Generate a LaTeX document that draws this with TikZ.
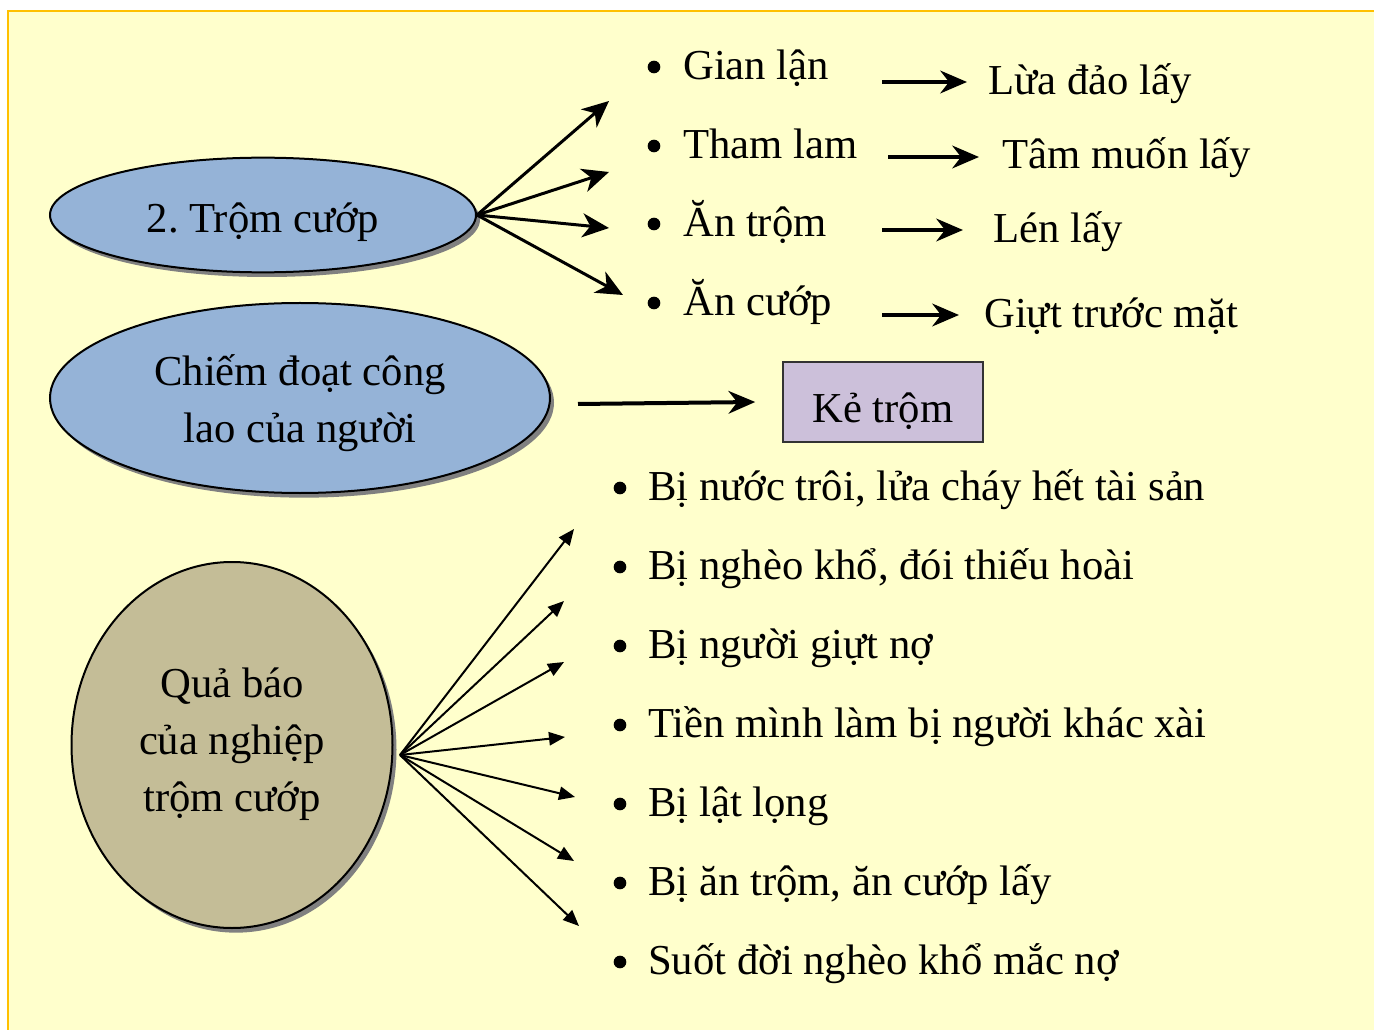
\documentclass[tikz,border=0pt]{standalone}
\usepackage{fontspec}
\setmainfont{Liberation Serif}
\usetikzlibrary{shapes.geometric,arrows.meta,shadows}
\definecolor{panel}{HTML}{FFFFCC}
\definecolor{panelline}{HTML}{FFC000}
\definecolor{ellblue}{HTML}{95B3D7}
\definecolor{elltan}{HTML}{C4BD97}
\definecolor{boxlav}{HTML}{CCC0DA}
\definecolor{shadowgray}{HTML}{808080}
\frenchspacing
\tikzset{
  txt/.style={font=\fontsize{32}{43}\selectfont, inner sep=0pt, anchor=base west},
  oval/.style={ellipse, draw=black, line width=1.5pt, align=center, inner sep=0pt,
    font=\fontsize{32}{43}\selectfont,
    drop shadow={shadow xshift=3pt, shadow yshift=-3.5pt, fill=shadowgray, opacity=1}},
  dot/.style={circle, fill=black, inner sep=0pt, minimum size=9.5pt},
  fanup/.style={line width=2.25pt, -{Stealth[length=20pt,width=18pt,inset=6pt]}},
  fanright/.style={line width=3pt, -{Stealth[length=20pt,width=17pt,inset=6.5pt]}},
  fandown/.style={line width=1.5pt, -{Triangle[length=12pt,width=10pt]}},
}
\newcommand{\lowertext}[2]{\raisebox{#1}[\height][\depth]{\begin{tabular}{@{}c@{}}#2\end{tabular}}}
\begin{document}
\begin{tikzpicture}[x=0.75pt,y=-0.75pt]
\useasboundingbox (0,0) rectangle (1374,1030);
\fill[white] (0,0) rectangle (1374,1030);
\fill[panel] (8,11) rectangle (1374,1030);
\draw[panelline, line width=1.5pt] (8,1030) -- (8,11) -- (1374,11);

% ellipses and box
\node[oval, fill=ellblue, minimum width=319.5pt, minimum height=86pt] (e1) at (263,215) {\lowertext{-4.5pt}{2. Trộm cướp}};
\node[oval, fill=ellblue, minimum width=375pt, minimum height=142.5pt] (e2) at (300,398) {\lowertext{-3.5pt}{Chiếm đoạt công\\lao của người}};
\node[oval, fill=elltan, minimum width=240.75pt, minimum height=274.5pt] (e3) at (232,745) {\lowertext{1.5pt}{Quả báo\\của nghiệp\\trộm cướp}};
\node[draw=black!80, line width=1.2pt, fill=boxlav, minimum width=150pt, minimum height=60pt,
  font=\fontsize{32}{43}\selectfont] (kt) at (883,402) {\lowertext{-7pt}{Kẻ trộm}};

% upper list
\node[dot] (b1) at (654,67) {};
\node[dot] (b2) at (654,146) {};
\node[dot] (b3) at (654,224) {};
\node[dot] (b4) at (654,303) {};
\node[txt] (t1) at (683,80) {Gian lận};
\node[txt] (t2) at (683,159) {Tham lam};
\node[txt] (t3) at (683,237) {Ăn trộm};
\node[txt] (t4) at (683,316) {Ăn cướp};

\node[txt] (r1) at (988,95) {Lừa đảo lấy};
\node[txt] (r2) at (1002,169) {Tâm muốn lấy};
\node[txt] (r3) at (993,243) {Lén lấy};
\node[txt] (r4) at (984,328) {Giựt trước mặt};

% fan from e1
\coordinate (u1) at (609,101);
\coordinate (u2) at (609,172);
\coordinate (u3) at (609,228);
\coordinate (u4) at (623,295);
\foreach \u in {u1,u2,u3,u4} \draw[fanup] (e1.east) -- (\u);

% right arrows
\coordinate (s1) at (882,82);  \coordinate (f1) at (967,82);
\coordinate (s2) at (888,157); \coordinate (f2) at (979,157);
\coordinate (s3) at (882,230); \coordinate (f3) at (963,230);
\coordinate (s4) at (882,315); \coordinate (f4) at (959,315);
\draw[fanright] (s1) -- (f1);
\draw[fanright] (s2) -- (f2);
\draw[fanright] (s3) -- (f3);
\draw[fanright] (s4) -- (f4);

% e2 -> Ke trom
\coordinate (ks) at (578,404);
\draw[fanright] (ks) -- ([xshift=-20.25pt]kt.west);

% lower list
\foreach \i/\y/\t in {1/500/{Bị nước trôi, lửa cháy hết tài sản},
                      2/579/{Bị nghèo khổ, đói thiếu hoài},
                      3/658/{Bị người giựt nợ},
                      4/737/{Tiền mình làm bị người khác xài},
                      5/816/{Bị lật lọng},
                      6/895/{Bị ăn trộm, ăn cướp lấy},
                      7/974/{Suốt đời nghèo khổ mắc nợ}}{
  \node[dot] (d\i) at (620,\y-12) {};
  \node[txt] (l\i) at (648,\y) {\t};
}

% fan from e3
\coordinate (q0) at (400,755);
\coordinate (v1) at (574,529);
\coordinate (v2) at (564,601);
\coordinate (v3) at (564,662);
\coordinate (v4) at (565,737);
\coordinate (v5) at (575,797);
\coordinate (v6) at (574,861);
\coordinate (v7) at (579,926);
\foreach \v in {v1,v2,v3,v4,v5,v6,v7} \draw[fandown] (q0) -- (\v);
\end{tikzpicture}
\end{document}
